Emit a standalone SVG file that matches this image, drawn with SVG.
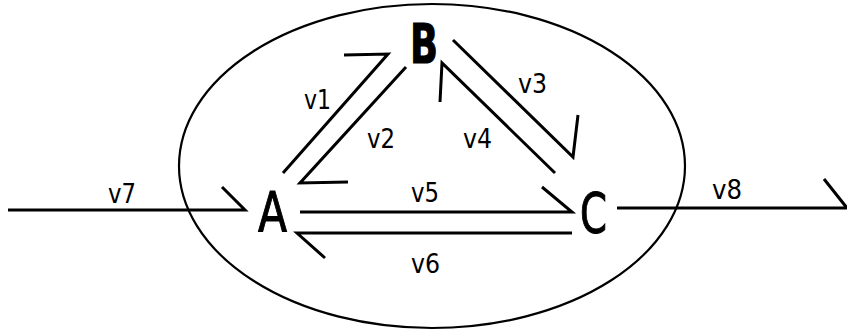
<svg xmlns="http://www.w3.org/2000/svg" width="847" height="335" viewBox="0 0 847 335">
<style>
.bg{fill:#fff}
.ell{fill:none;stroke:#000;stroke-width:2.2}
.c{fill:none;stroke:#000;stroke-width:3;stroke-linecap:butt;stroke-linejoin:miter}
.n{font-family:"DejaVu Sans Condensed","DejaVu Sans",sans-serif;font-size:56px;fill:#000;stroke:#000;stroke-width:1}
.l{font-family:"DejaVu Sans Condensed","DejaVu Sans",sans-serif;font-size:26px;fill:#000}
</style>
<rect class="bg" x="0" y="0" width="847" height="335"/>
<g id="boundary"><ellipse class="ell" cx="432" cy="166" rx="253" ry="162"/></g>
<g id="connectors">
<path class="c" d="M283,173 L388,54 L344,55"/>
<path class="c" d="M406,67 L300,183 L348,182"/>
<path class="c" d="M453,40 L573,157 L578,115"/>
<path class="c" d="M555,173 L442,63 L440,102"/>
<path class="c" d="M300,212 L572,212 L542,187"/>
<path class="c" d="M572,233 L297,233 L325,258"/>
<path class="c" d="M8,210 L245,210 L222,187"/>
<path class="c" d="M617,208 L847,208 L824,179"/>
<text class="l" x="304" y="109" textLength="27" lengthAdjust="spacingAndGlyphs">v1</text>
<text class="l" x="367" y="148" textLength="28" lengthAdjust="spacingAndGlyphs">v2</text>
<text class="l" x="518" y="93" textLength="29" lengthAdjust="spacingAndGlyphs">v3</text>
<text class="l" x="463" y="148" textLength="29" lengthAdjust="spacingAndGlyphs">v4</text>
<text class="l" x="411" y="202" textLength="28" lengthAdjust="spacingAndGlyphs">v5</text>
<text class="l" x="411" y="273" textLength="29" lengthAdjust="spacingAndGlyphs">v6</text>
<text class="l" x="108" y="203" textLength="28" lengthAdjust="spacingAndGlyphs">v7</text>
<text class="l" x="712" y="199" textLength="30" lengthAdjust="spacingAndGlyphs">v8</text>
</g>
<g id="node-A"><text class="n" x="258" y="231" textLength="29" lengthAdjust="spacingAndGlyphs">A</text></g>
<g id="node-B"><text class="n" x="410" y="63" font-weight="bold" stroke-width="0" textLength="28" lengthAdjust="spacingAndGlyphs">B</text></g>
<g id="node-C"><text class="n" x="580" y="232" textLength="27" lengthAdjust="spacingAndGlyphs">C</text></g>
</svg>
